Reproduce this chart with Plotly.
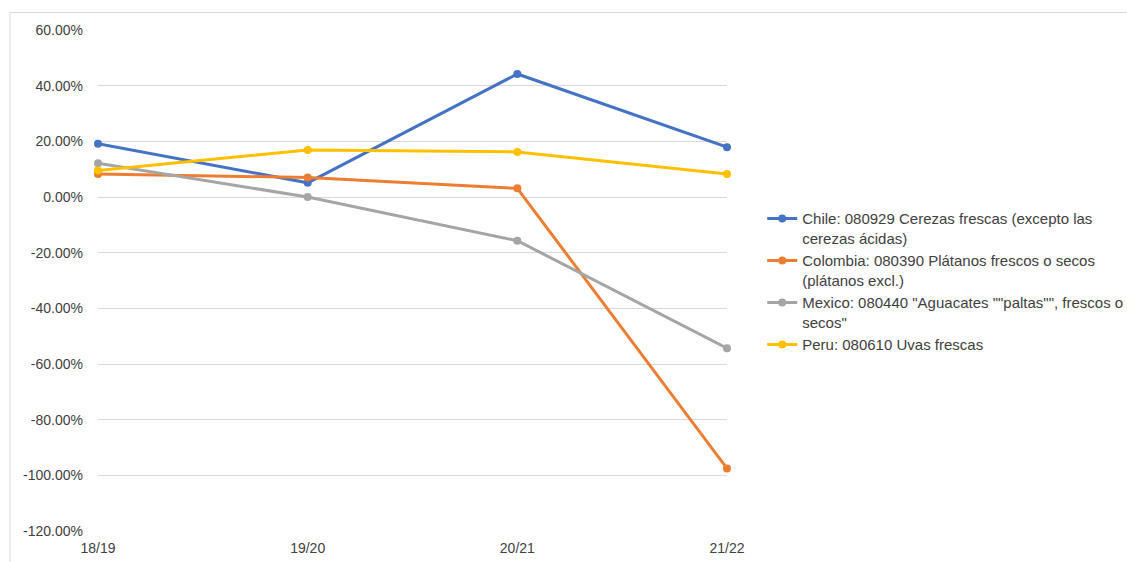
import plotly.graph_objects as go

categories = ["18/19", "19/20", "20/21", "21/22"]
chile = [0.191, 0.051, 0.442, 0.179]
colombia = [0.083, 0.070, 0.031, -0.975]
mexico = [0.121, 0.000, -0.157, -0.543]
peru = [0.095, 0.169, 0.162, 0.083]

names = [
    "Chile: 080929 Cerezas frescas (excepto las<br>cerezas ácidas)",
    "Colombia: 080390 Plátanos frescos o secos<br>(plátanos excl.)",
    'Mexico: 080440 "Aguacates ""paltas"", frescos o<br>secos"',
    "Peru: 080610 Uvas frescas",
]
colors = ["#4472C4", "#ED7D31", "#A5A5A5", "#FFC000"]
series = [chile, colombia, mexico, peru]

tick_vals = [0.6, 0.4, 0.2, 0.0, -0.2, -0.4, -0.6, -0.8, -1.0, -1.2]
tick_text = ["60.00%", "40.00%", "20.00%", "0.00%", "-20.00%", "-40.00%",
             "-60.00%", "-80.00%", "-100.00%", "-120.00%"]

fig = go.Figure()
for i, (vals, name, col) in enumerate(zip(series, names, colors)):
    fig.add_trace(go.Scatter(
        x=list(range(len(categories))), y=vals, name=name, mode="lines+markers",
        line=dict(color=col, width=3), marker=dict(color=col, size=8),
        cliponaxis=False, legendgroup=f"g{i}",
    ))

font = dict(family="Liberation Sans, Arial, sans-serif", size=13, color="#404040")

fig.update_layout(
    width=1127, height=562,
    margin=dict(l=98, r=400, t=30, b=31, autoexpand=False),
    paper_bgcolor="white", plot_bgcolor="white",
    font=font,
    showlegend=True,
    legend=dict(x=1.056, xanchor="left", y=0.656, yanchor="top",
                xref="paper", yref="paper",
                font=dict(family="Liberation Sans, Arial, sans-serif", size=15, color="#404040"),
                valign="top", tracegroupgap=2, bgcolor="rgba(0,0,0,0)",
                traceorder="normal"),
    xaxis=dict(
        range=[0, 3], tickmode="array", tickvals=list(range(len(categories))),
        ticktext=categories, showgrid=False, zeroline=False, showline=False,
        ticks="", ticklen=0, tickfont=dict(size=14, color="#404040"),
        automargin=False, ticklabelstandoff=7,
    ),
    yaxis=dict(
        range=[-1.2, 0.6], tickmode="array", tickvals=tick_vals, ticktext=tick_text,
        showgrid=True, gridcolor="#D9D9D9", gridwidth=1, zeroline=False,
        showline=False, ticks="", ticklabelstandoff=14, automargin=False,
        tickfont=dict(size=14, color="#404040"),
    ),
    shapes=[dict(type="rect", xref="paper", yref="paper",
                 x0=(10 - 98) / 629, x1=(1200 - 98) / 629,
                 y0=-0.2, y1=1 + 17.5 / 501,
                 line=dict(color="#D9D9D9", width=1), fillcolor="rgba(0,0,0,0)",
                 layer="below")],
)

fig.write_html("out.html")
